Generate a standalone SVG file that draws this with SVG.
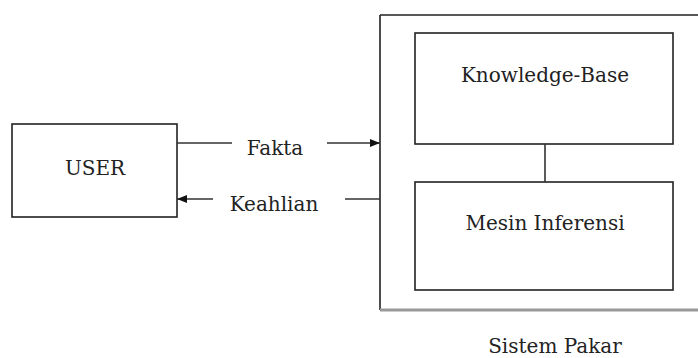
<svg xmlns="http://www.w3.org/2000/svg" width="698" height="358" viewBox="0 0 698 358">
  <style>
    .box { fill: none; stroke: #222; stroke-width: 1.6; }
    .line { fill: none; stroke: #333; stroke-width: 1.6; }
    .lbl { font-family: 'DejaVu Serif', 'Liberation Serif', serif; font-size: 20px; fill: #222; text-anchor: middle; }
  </style>
  <defs>
    <marker id="arrow" viewBox="0 0 10 10" refX="10" refY="5" markerWidth="10" markerHeight="10" markerUnits="userSpaceOnUse" orient="auto">
      <path d="M0,1 L10,5 L0,9 Z" fill="#111"/>
    </marker>
  </defs>

  <g id="user">
    <rect class="box" x="12" y="124" width="165" height="93"/>
    <text class="lbl" x="95" y="175">USER</text>
  </g>

  <g id="sistem-pakar">
    <path d="M380,15 H700 M380,15 V310" class="box" stroke-width="2"/>
    <path d="M380,310 H700" fill="none" stroke="#999" stroke-width="3"/>
    <text class="lbl" x="555" y="353">Sistem Pakar</text>
  </g>

  <g id="knowledge-base">
    <rect class="box" x="415" y="33" width="258" height="111"/>
    <text class="lbl" x="545" y="82">Knowledge-Base</text>
  </g>

  <g id="mesin-inferensi">
    <rect class="box" x="415" y="182" width="258" height="108"/>
    <text class="lbl" x="545" y="230">Mesin Inferensi</text>
  </g>

  <g id="connectors">
    <line class="line" x1="177" y1="143" x2="232" y2="143"/>
    <text class="lbl" x="275" y="155">Fakta</text>
    <line class="line" x1="327" y1="143" x2="380" y2="143" marker-end="url(#arrow)"/>
    <line class="line" x1="213" y1="199" x2="177" y2="199" marker-end="url(#arrow)"/>
    <text class="lbl" x="274" y="211">Keahlian</text>
    <line class="line" x1="345" y1="199" x2="380" y2="199"/>
    <line class="line" x1="545" y1="144" x2="545" y2="182"/>
  </g>
</svg>
